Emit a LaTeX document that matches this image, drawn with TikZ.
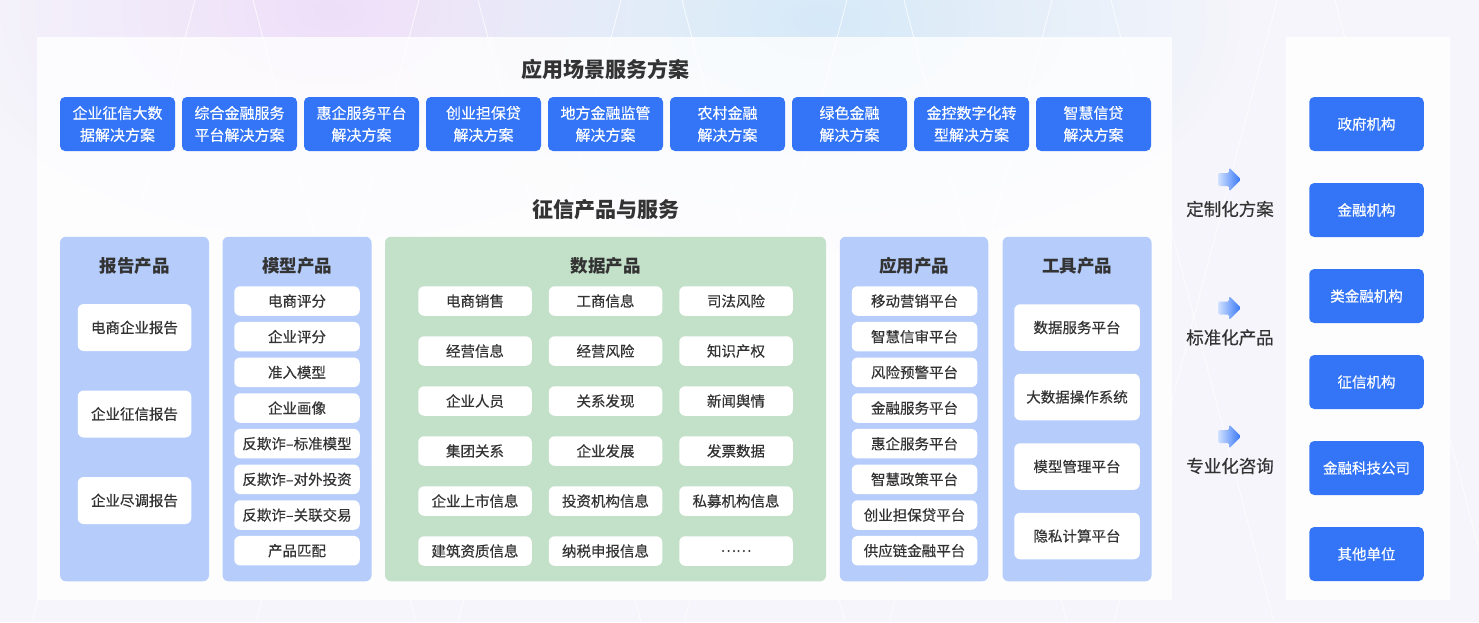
\documentclass[tikz,border=0pt]{standalone}
\usepackage{fontspec}
\setmainfont{Noto Sans CJK SC}
\newfontfamily\medfont[FakeBold=0.4]{Noto Sans CJK SC}
\usetikzlibrary{fadings}
\definecolor{pagebg}{HTML}{F5F5FB}
\definecolor{mainblue}{HTML}{3375F6}
\definecolor{colblue}{HTML}{B6CDFB}
\definecolor{colgreen}{HTML}{C3E1C9}
\definecolor{darktext}{HTML}{333333}
\definecolor{glowpink}{HTML}{EEDFF9}
\definecolor{glowblue}{HTML}{D6E9F8}
\definecolor{arrowlight}{HTML}{D2E1FF}
\tikzfading[name=glowfade, inner color=transparent!0, outer color=transparent!100]

\begin{document}
\begin{tikzpicture}[x=1pt,y=-1pt,
  bluebox/.style={rectangle,rounded corners=5pt,fill=mainblue,text=white,align=center,inner sep=0pt,font=\fontsize{15}{22}\selectfont\medfont},
  colbox/.style={rectangle,rounded corners=6pt,inner sep=0pt,minimum width=149pt,minimum height=344.5pt},
  itembox/.style={rectangle,rounded corners=6pt,fill=white,text=darktext,inner sep=0pt,minimum height=29.5pt,font=\fontsize{14.5}{17}\selectfont\medfont},
  coltitle/.style={text=darktext,font=\fontsize{17.5}{20}\selectfont\bfseries},
  maintitle/.style={text=darktext,font=\fontsize{21}{24}\selectfont\bfseries}]
  \path[use as bounding box,clip] (0,0) rectangle (1479,622);
  % background
  \fill[pagebg] (0,0) rectangle (1479,622);
  \fill[glowpink,path fading=glowfade] (330,10) ellipse (380pt and 230pt);
  \fill[glowblue,path fading=glowfade] (820,20) ellipse (420pt and 230pt);
  \foreach \a/\b in {195/32,253/416,419/256,478/641,621/458,682/845,847/684,904/1067,1052/889,1111/1274,1277/1114,1335/1498}
    \draw[white,line width=0.8pt,opacity=0.8] (\a,0) -- (\b,622);
  \node[fill=white,fill opacity=0.8,inner sep=0pt,minimum width=1135pt,minimum height=563pt](mainpanel)at(604.5,318.5){};
  \node[fill=white,fill opacity=0.8,inner sep=0pt,minimum width=164pt,minimum height=563pt](sidepanel)at(1368,318.5){};
  % scenarios
  \node[maintitle](scenetitle)at(605,69){应用场景服务方案};
  \foreach \t [count=\i from 0] in {企业征信大数\\据解决方案,综合金融服务\\平台解决方案,惠企服务平台\\解决方案,创业担保贷\\解决方案,地方金融监管\\解决方案,农村金融\\解决方案,绿色金融\\解决方案,金控数字化转\\型解决方案,智慧信贷\\解决方案}
    \node[bluebox,minimum width=115pt,minimum height=54pt](scene\i)at(117.5+122*\i,124){\t};
  % products
  \node[maintitle](prodtitle)at(606,210){征信产品与服务};
  \node[colbox,fill=colblue](report)at(134.5,409){};
  \node[colbox,fill=colblue](model)at(297,409){};
  \node[colbox,fill=colgreen,minimum width=441pt](data)at(605.5,409){};
  \node[colbox,fill=colblue,minimum width=148.5pt](app)at(914,409){};
  \node[colbox,fill=colblue](tool)at(1077,409){};
  \foreach \c/\x/\t in {report/134.5/报告产品,model/297/模型产品,data/605.5/数据产品,app/914/应用产品,tool/1077/工具产品}
    \node[coltitle](\c-title)at(\x,265.5){\t};
  \foreach \t [count=\i from 0] in {电商企业报告,企业征信报告,企业尽调报告}
    \node[itembox,minimum width=113.5pt,minimum height=47pt](report\i)at(134.5,327.5+86.5*\i){\t};
  \foreach \t [count=\i from 0] in {电商评分,企业评分,准入模型,企业画像,反欺诈–标准模型,反欺诈–对外投资,反欺诈–关联交易,产品匹配}
    \node[itembox,minimum width=125.5pt](model\i)at(297,301+35.67*\i){\t};
  \foreach \row [count=\j from 0] in {{电商销售,工商信息,司法风险},{经营信息,经营风险,知识产权},{企业人员,关系发现,新闻舆情},{集团关系,企业发展,发票数据},{企业上市信息,投资机构信息,私募机构信息},{建筑资质信息,纳税申报信息,……}}
    \foreach \t [count=\i from 0] in \row
      \node[itembox,minimum width=113.5pt](data\j\i)at(475+130.5*\i,301+50*\j){\t};
  \foreach \t [count=\i from 0] in {移动营销平台,智慧信审平台,风险预警平台,金融服务平台,惠企服务平台,智慧政策平台,创业担保贷平台,供应链金融平台}
    \node[itembox,minimum width=125.5pt](app\i)at(914.5,301+35.67*\i){\t};
  \foreach \t [count=\i from 0] in {数据服务平台,大数据操作系统,模型管理平台,隐私计算平台}
    \node[itembox,minimum width=125.5pt,minimum height=46.5pt](tool\i)at(1077,327.5+69.5*\i){\t};
  % delivery modes
  \foreach \t [count=\i from 0] in {定制化方案,标准化产品,专业化咨询}{
    \node[text=darktext,font=\fontsize{17.5}{20}\selectfont\medfont](mode\i)at(1230,209+128.5*\i){\t};
    \shade[left color=arrowlight,right color=mainblue,rounded corners=1.5pt]
      (1218,173+128.5*\i) -- (1229,173+128.5*\i) -- (1229,167.5+128.5*\i) -- (1241,179.5+128.5*\i)
      -- (1229,191.5+128.5*\i) -- (1229,186+128.5*\i) -- (1218,186+128.5*\i) -- cycle;
  }
  % clients
  \foreach \t [count=\i from 0] in {政府机构,金融机构,类金融机构,征信机构,金融科技公司,其他单位}
    \node[bluebox,minimum width=114.5pt,minimum height=54pt,font=\fontsize{14.5}{17}\selectfont\medfont](client\i)at(1366.5,124+86*\i){\t};
\end{tikzpicture}
\end{document}
